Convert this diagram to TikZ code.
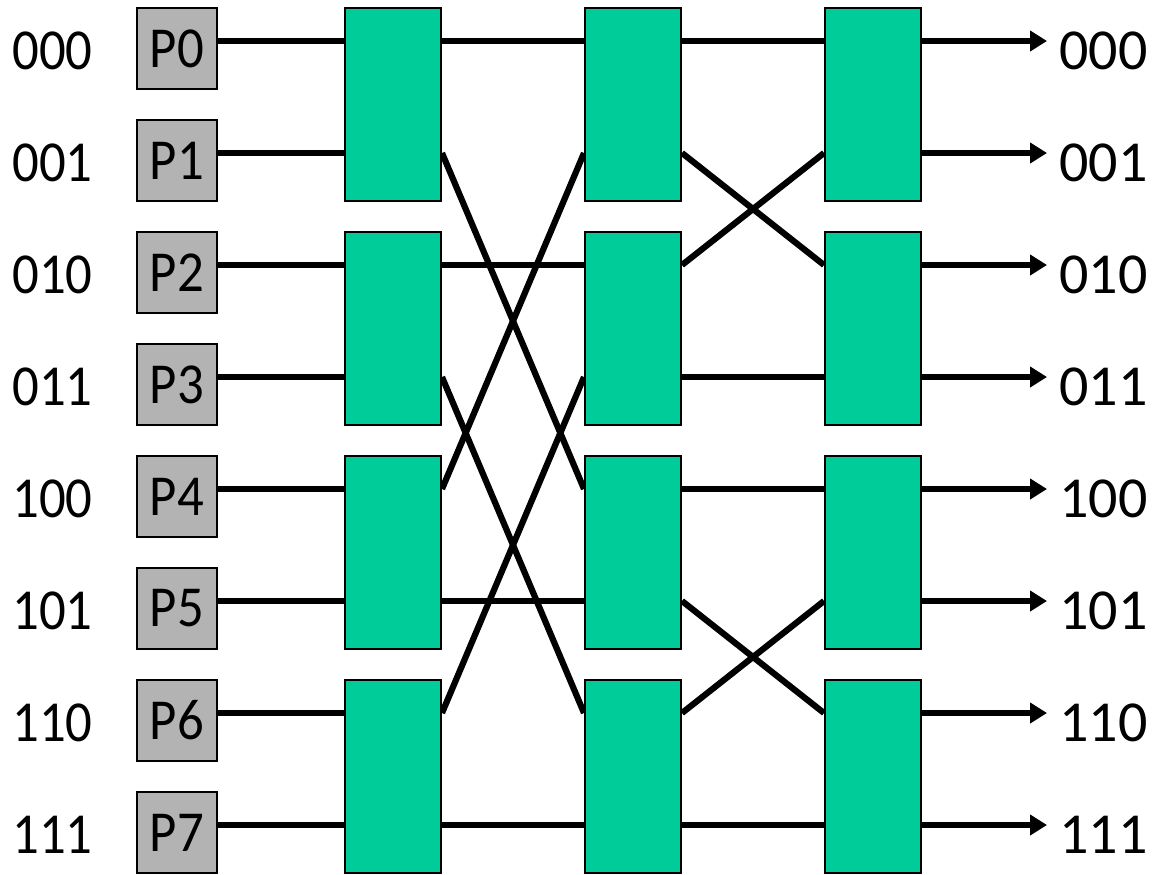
\documentclass[tikz,border=0pt]{standalone}
\usepackage{fontspec}
\setmainfont[FakeStretch=0.91]{Carlito}
\newfontfamily\widefont{Carlito}
\usetikzlibrary{arrows.meta,backgrounds}
\definecolor{swgreen}{HTML}{00CC99}
\definecolor{pgray}{HTML}{B3B3B3}

\begin{document}
\begin{tikzpicture}[x=0.5pt,y=-0.5pt,
  every node/.style={font=\fontsize{29pt}{34pt}\selectfont},
  lbl/.style={inner sep=0pt},
  outlbl/.style={anchor=west,inner xsep=6pt,inner ysep=0pt,font=\fontsize{29pt}{34pt}\widefont},
  proc/.style={draw,line width=1pt,fill=pgray,minimum width=40pt,minimum height=40.5pt,inner sep=0pt},
  switch/.style={draw,line width=1pt,fill=swgreen,minimum width=48pt,minimum height=96.5pt,inner sep=0pt},
  wire/.style={line width=3.1pt},
  outwire/.style={wire,-{Triangle[length=8.5pt,width=10pt]}}]
\useasboundingbox (0,0) rectangle (1155,874);

% labels, processors and rows
\foreach \i/\lab in {0/000,1/001,2/010,3/011,4/100,5/101,6/110,7/111} {
  \coordinate (r\i) at (0,41+112*\i);
  \node[lbl] (l\i) at (52.5,51+112*\i) {\lab};
  \node[proc] (p\i) at (177,48.5+112*\i) {P\i};
  \node[outlbl] (o\i) at (1047,51+112*\i) {\lab};
}

% three stages of switches
\foreach \s/\x in {A/393,B/633,C/873}
  \foreach \k in {0,...,3}
    \node[switch] (s\s\k) at (\x,104.5+224*\k) {};

\begin{scope}[on background layer]
% inputs and outputs
\foreach \i/\k in {0/0,1/0,2/1,3/1,4/2,5/2,6/3,7/3} {
  \draw[wire] (p\i.east |- r\i) -- (sA\k.west |- r\i);
  \draw[outwire] (sC\k.east |- r\i) -- (o\i.west |- r\i);
}
% stage 1 to stage 2
\foreach \i/\ka/\j/\kb in {0/0/0/0,1/0/4/2,2/1/2/1,3/1/6/3,4/2/1/0,5/2/5/2,6/3/3/1,7/3/7/3}
  \draw[wire] (sA\ka.east |- r\i) -- (sB\kb.west |- r\j);
% stage 2 to stage 3
\foreach \i/\ka/\j/\kb in {0/0/0/0,1/0/2/1,2/1/1/0,3/1/3/1,4/2/4/2,5/2/6/3,6/3/5/2,7/3/7/3}
  \draw[wire] (sB\ka.east |- r\i) -- (sC\kb.west |- r\j);
\end{scope}
\end{tikzpicture}
\end{document}
